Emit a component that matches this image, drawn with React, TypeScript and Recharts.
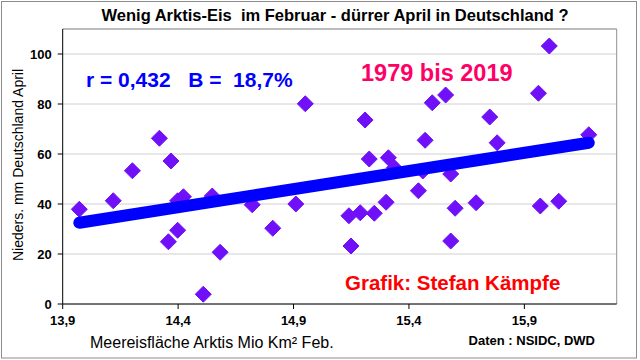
import React from 'react';
import { ScatterChart, Scatter, XAxis, YAxis, CartesianGrid, ReferenceLine } from 'recharts';

// sea ice area Feb (Mio km²) vs. April precipitation Germany (mm), 1979-2019
const iceArea = [
  13.972, 14.119, 14.202, 14.319, 14.369, 14.358, 14.398, 14.398, 14.423, 14.509,
  14.548, 14.582, 14.721, 14.81, 14.91, 14.951, 15.14, 15.149, 15.189, 15.21,
  15.228, 15.25, 15.301, 15.311, 15.337, 15.441, 15.46, 15.47, 15.501, 15.559,
  15.581, 15.581, 15.6, 15.691, 15.75, 15.782, 15.961, 15.969, 16.008, 16.049,
  16.179,
];
const aprilRain = [
  37.9, 41.3, 53.3, 66.3, 57.2, 24.9, 29.5, 41.3, 42.9, 3.9,
  43.2, 20.7, 39.7, 30.3, 40.0, 80.1, 35.3, 23.2, 36.5, 73.6,
  58.0, 36.3, 40.7, 58.5, 54.5, 45.3, 53.2, 65.5, 80.5, 83.6,
  52.0, 25.2, 38.3, 40.5, 74.8, 64.5, 84.3, 39.2, 103.2, 41.1,
  67.7,
];

// linear trend, ends
const trendX = [13.972, 16.179];
const trendY = [32.5, 64.5];

const xTicks = [13.9, 14.4, 14.9, 15.4, 15.9];
const yTicks = [0, 20, 40, 60, 80, 100];

const points = iceArea.map((x, i) => ({ x, y: aprilRain[i] }));
const trend = trendX.map((x, i) => ({ x, y: trendY[i] }));

const font = '"Liberation Sans", Arial, sans-serif';

const Diamond = (props: any) => {
  const { cx, cy } = props;
  const r = 8;
  return (
    <polygon
      points={`${cx},${cy - r} ${cx + r},${cy} ${cx},${cy + r} ${cx - r},${cy}`}
      fill="#7010F8"
      stroke="#7010F8"
      strokeWidth={1}
      strokeLinejoin="round"
    />
  );
};

const App = () => {
  const tickStyle = { fontFamily: font, fontSize: 13, fontWeight: 'bold', fill: '#000' };

  return (
    <div style={{ position: 'relative', width: 640, height: 360, background: '#fff' }}>
      <style>{'body{margin:0}'}</style>
      <ScatterChart width={640} height={360} margin={{ top: 29, right: 23.3, bottom: 26, left: 12.7 }}>
        <CartesianGrid vertical={false} stroke="#d0d0d0" />
        <XAxis
          type="number"
          dataKey="x"
          domain={[13.9, 16.3]}
          ticks={xTicks}
          allowDataOverflow
          height={30}
          stroke="#000"
          tickSize={5}
          tickMargin={7}
          tick={tickStyle}
          tickFormatter={(v: number) => v.toFixed(1).replace('.', ',')}
        />
        <YAxis
          type="number"
          dataKey="y"
          domain={[0, 110]}
          ticks={yTicks}
          allowDataOverflow
          width={50}
          stroke="#000"
          tickSize={5}
          tickMargin={6}
          tick={tickStyle}
        />
        <ReferenceLine y={110} stroke="#909090" />
        <ReferenceLine x={16.3} stroke="#909090" />
        <Scatter data={points} shape={Diamond} isAnimationActive={false} />
        <Scatter
          data={trend}
          shape={() => <g />}
          line={{ stroke: '#0000FF', strokeWidth: 12, strokeLinecap: 'round' }}
          isAnimationActive={false}
        />
      </ScatterChart>
      <svg
        width={640}
        height={360}
        style={{ position: 'absolute', left: 0, top: 0, pointerEvents: 'none' }}
        fontFamily={font}
      >
        <rect x={1.5} y={1.5} width={635} height={356.5} fill="none" stroke="#8c8c8c" />
        <text x={335} y={21} textAnchor="middle" fontSize={16.5} fontWeight="bold" style={{ whiteSpace: 'pre' }}>
          Wenig Arktis-Eis  im Februar - dürrer April in Deutschland ?
        </text>
        <text x={86} y={87} fontSize={21} fontWeight="bold" fill="#0000FF" style={{ whiteSpace: 'pre' }}>
          r = 0,432   B =  18,7%
        </text>
        <text x={361} y={81} fontSize={23.5} fontWeight="bold" fill="#FF0066">
          1979 bis 2019
        </text>
        <text x={345} y={290} fontSize={20.5} fontWeight="bold" fill="#FF0000">
          Grafik: Stefan Kämpfe
        </text>
        <text x={595} y={345} textAnchor="end" fontSize={13} fontWeight="bold">
          Daten : NSIDC, DWD
        </text>
        <text x={90} y={348} fontSize={16}>
          Meereisfläche Arktis Mio Km² Feb.
        </text>
        <text x={23} y={165} textAnchor="middle" fontSize={14} transform="rotate(-90 23 165)">
          Nieders. mm Deutschland April
        </text>
      </svg>
    </div>
  );
};

export default App;
